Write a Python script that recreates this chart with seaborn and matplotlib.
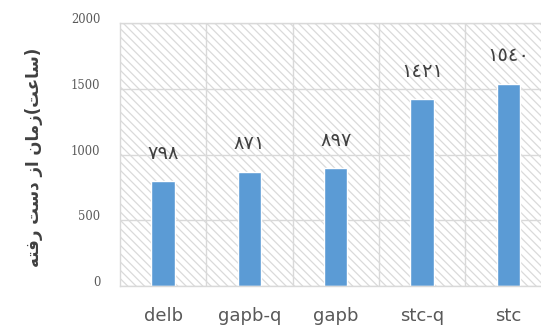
import matplotlib
matplotlib.use("Agg")
import matplotlib.pyplot as plt
import matplotlib.transforms as mtransforms
from matplotlib.patches import Rectangle
import seaborn as sns

# Lost time per method
categories = ["delb", "gapb-q", "gapb", "stc-q", "stc"]
values = [798, 871, 897, 1421, 1540]
y_ticks = [0, 500, 1000, 1500, 2000]

# Axis title, already in shaped (presentation-form) visual order: "(ساعت)زمان از دست رفته"
y_title = "\ufeea\ufe98\ufed3\ufead \ufe96\ufeb3\ufea9 \ufeaf\ufe8d \ufee5\ufe8e\ufee3\ufeaf(\ufe96\ufecb\ufe8e\ufeb3)"

ARABIC_DIGITS = "٠١٢٣٤٥٦٧٨٩"


def to_arabic_digits(v):
    return "".join(ARABIC_DIGITS[int(c)] for c in str(int(v)))


sns.set_theme(style="white")
plt.rcParams["font.family"] = ["DejaVu Sans"]
plt.rcParams["hatch.linewidth"] = 0.9

BAR = "#5B9BD5"
GRID = "#d9d9d9"
TXT = "#595959"

fig = plt.figure(figsize=(5.41, 3.26), dpi=100)
fig.patch.set_facecolor("white")
ax = fig.add_axes([120 / 541, 40 / 326, 431.5 / 541, 262.7 / 326])
ax.set_facecolor("white")

# diagonal hatched plot background
ax.add_patch(Rectangle((0, 0), 1, 1, transform=ax.transAxes, facecolor="white",
                       edgecolor="#dadada", hatch="\\\\\\\\", lw=0, zorder=0))

sns.barplot(x=categories, y=values, color=BAR, saturation=1, width=0.27, ax=ax, zorder=2)

ax.set_xlim(-0.5, len(categories) - 0.5)
ax.set_ylim(0, 2000)
ax.set_yticks(y_ticks)
ax.set_yticklabels([str(t) for t in y_ticks], family="DejaVu Serif", fontsize=8.3, color=TXT)
ax.set_xticks(range(len(categories)))
ax.set_xticklabels(categories, fontsize=13, color=TXT)
ax.set_xticks([i + 0.5 for i in range(len(categories) - 1)], minor=True)
ax.tick_params(axis="both", which="both", length=0)
ax.tick_params(axis="y", pad=14)
ax.tick_params(axis="x", pad=15)

# raise y tick labels a little above their gridlines
shift = mtransforms.ScaledTranslation(0, 3.6 / 72, fig.dpi_scale_trans)
for lab in ax.get_yticklabels():
    lab.set_transform(lab.get_transform() + shift)

ax.set_axisbelow(True)
ax.grid(axis="y", which="major", color=GRID, lw=1)
ax.grid(axis="x", which="minor", color=GRID, lw=1)
ax.grid(axis="x", which="major", visible=False)
for s in ax.spines.values():
    s.set_color(GRID)
    s.set_linewidth(1)
    s.set_zorder(3)

# value labels above bars
for i, v in enumerate(values):
    ax.annotate(to_arabic_digits(v), xy=(i, v), xytext=(0, 16), textcoords="offset points",
                ha="center", va="baseline", fontsize=14, color="#404040")

ax.set_xlabel("")
ax.set_ylabel(y_title, fontsize=12, fontweight="bold", color="#404040", va="center")
ax.yaxis.set_label_coords(-0.199, 0.489)

fig.savefig("out.png", dpi=100, facecolor="white")
